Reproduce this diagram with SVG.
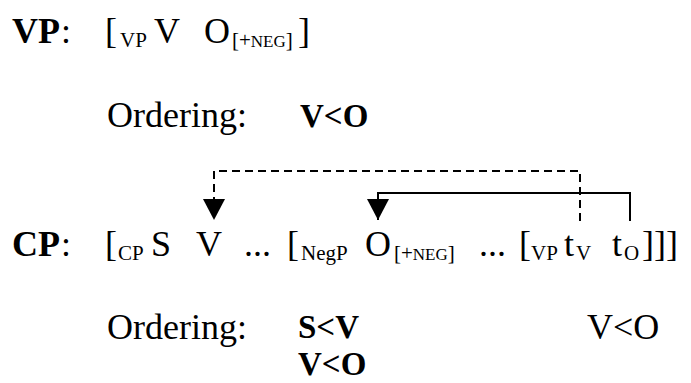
<svg xmlns="http://www.w3.org/2000/svg" width="691" height="383" viewBox="0 0 691 383">
<style>
  text { font-family: "Liberation Serif", "Times New Roman", serif; fill: #000; }
  .m { font-size: 36px; }
  .b { font-size: 36px; font-weight: bold; }
  .bo { font-size: 33px; font-weight: bold; }
  .s { font-size: 21px; }
  .sc { font-size: 17px; }
  .conn { fill: none; stroke: #000; stroke-width: 2; }
  .dash { stroke-dasharray: 8,5; }
</style>
<defs>
  <marker id="arrow" markerUnits="userSpaceOnUse" markerWidth="22" markerHeight="22" viewBox="0 0 21 22" refX="21" refY="11" orient="auto">
    <path d="M0,0 L21,11 L0,22 Z" fill="#000"/>
  </marker>
</defs>
<rect width="691" height="383" fill="#fff"/>
<g id="vp-line">
  <text class="b" x="12" y="43">VP</text>
  <text class="m" x="61" y="43">:</text>
  <text class="m" x="105" y="43">[</text>
  <text class="s" x="120" y="47">VP</text>
  <text class="m" x="154" y="43">V</text>
  <text class="m" x="204" y="43">O</text>
  <text class="s" x="232" y="47">[+<tspan class="sc">NEG</tspan>]</text>
  <text class="m" x="298" y="43">]</text>
</g>
<g id="vp-ordering">
  <text class="m" x="107" y="127">Ordering:</text>
  <text class="bo" x="300" y="127">V&lt;O</text>
</g>
<g id="cp-line">
  <text class="b" x="12" y="256">CP</text>
  <text class="m" x="61" y="256">:</text>
  <text class="m" x="105" y="256">[</text>
  <text class="s" x="118" y="260">CP</text>
  <text class="m" x="151" y="256">S</text>
  <text id="cp-v" class="m" x="196" y="256">V</text>
  <text class="m" x="244" y="256">...</text>
  <text class="m" x="287" y="256">[</text>
  <text class="s" x="301" y="260">NegP</text>
  <text id="cp-o" class="m" x="365" y="256">O</text>
  <text class="s" x="394" y="260">[+<tspan class="sc">NEG</tspan>]</text>
  <text class="m" x="479" y="256">...</text>
  <text class="m" x="519" y="256">[</text>
  <text class="s" x="531" y="260">VP</text>
  <text id="cp-tv" class="m" x="564" y="256">t</text>
  <text class="s" x="576" y="260">V</text>
  <text id="cp-to" class="m" x="612" y="256">t</text>
  <text class="s" x="624" y="260">O</text>
  <text class="m" x="642" y="256">]]]</text>
</g>
<g id="cp-ordering">
  <text class="m" x="107" y="339">Ordering:</text>
  <text class="bo" x="298" y="338">S&lt;V</text>
  <text class="m" x="587" y="339">V&lt;O</text>
  <text class="bo" x="298" y="375">V&lt;O</text>
</g>
<g id="connectors">
  <path class="conn dash" d="M580,221 V171 H214 V220" marker-end="url(#arrow)"/>
  <path class="conn" d="M630,221 V193 H378 V220" marker-end="url(#arrow)"/>
</g>
</svg>
